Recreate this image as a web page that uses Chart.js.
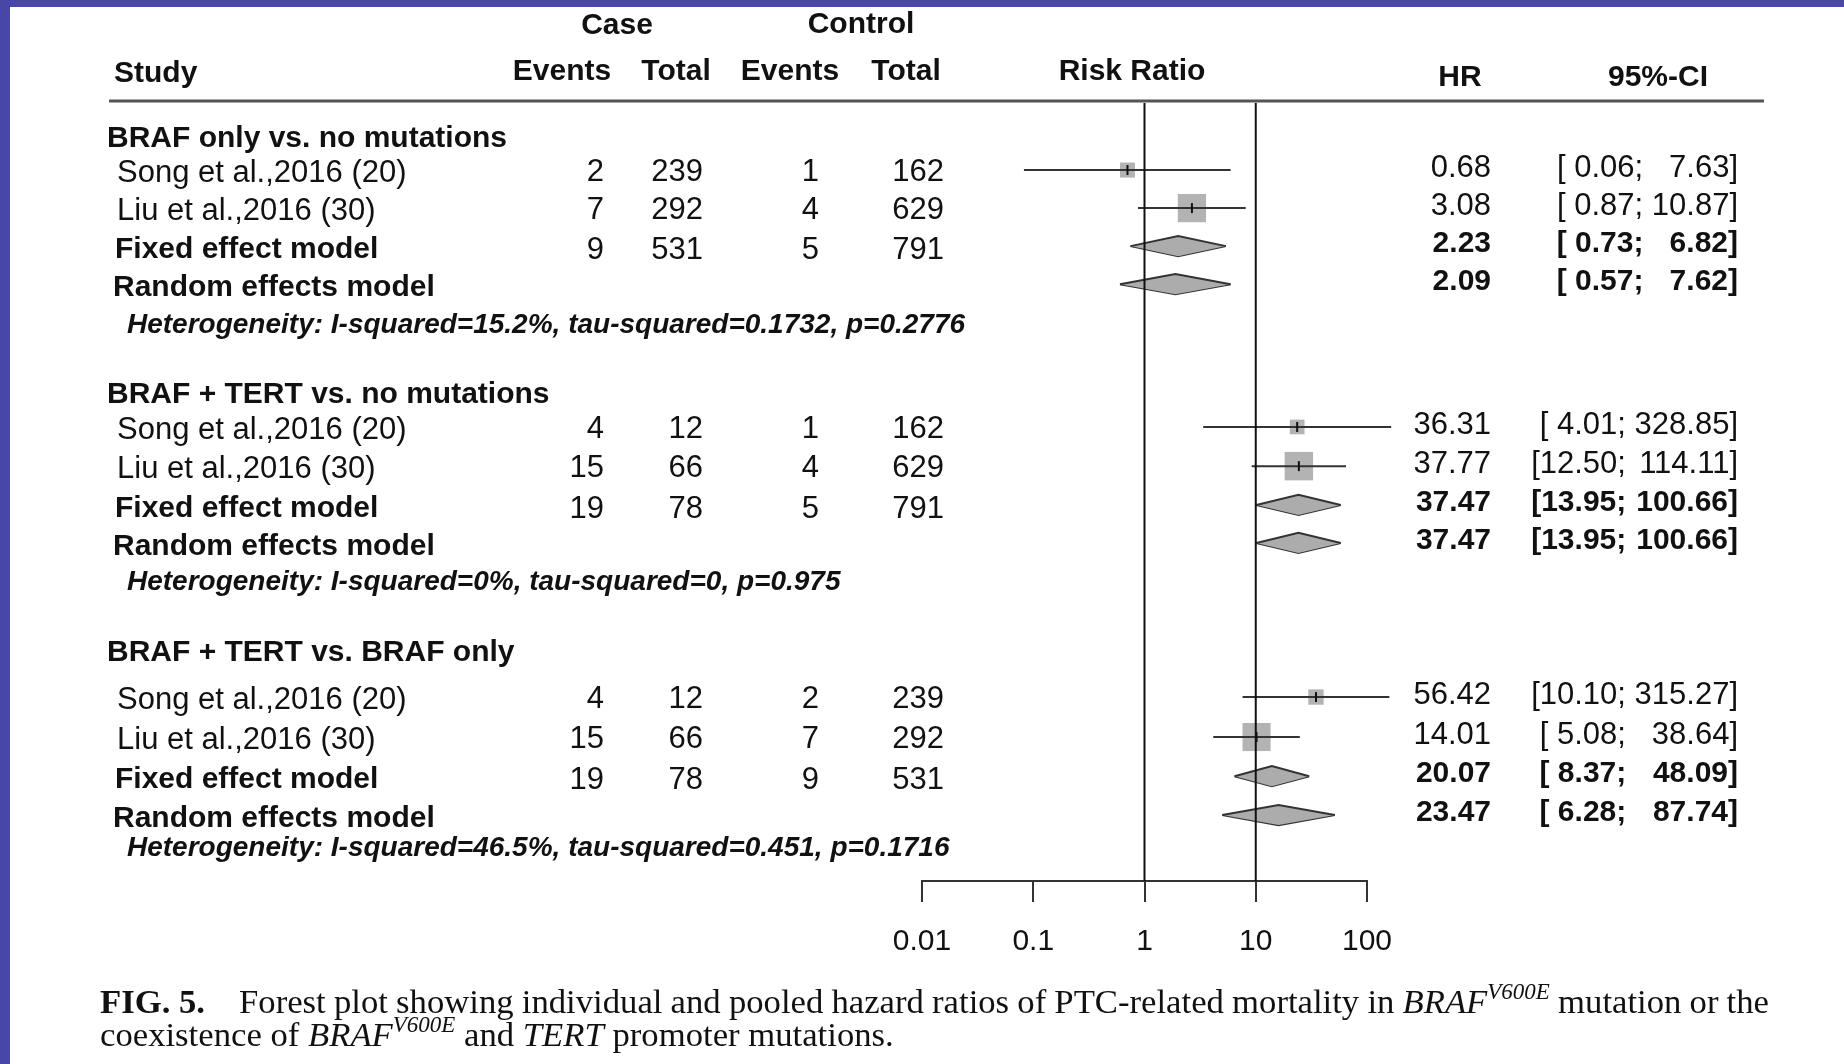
<!DOCTYPE html>
<html>
<head>
<meta charset="utf-8">
<script src="https://cdn.jsdelivr.net/npm/chart.js@4.4.1/dist/chart.umd.min.js"></script>
<style>
  html, body { margin: 0; padding: 0; background: #fff; }
  canvas { display: block; }
</style>
</head>
<body>
<canvas id="forest" width="1844" height="1064"></canvas>
<script>
// ---- data ----
const groupTitles = ['BRAF only vs. no mutations', 'BRAF + TERT vs. no mutations', 'BRAF + TERT vs. BRAF only'];
const studyNames = ['Song et al.,2016 (20)', 'Liu et al.,2016 (30)'];

const caseEvents = [[2, 7], [4, 15], [4, 15]];
const caseTotals = [[239, 292], [12, 66], [12, 66]];
const controlEvents = [[1, 4], [1, 4], [2, 7]];
const controlTotals = [[162, 629], [162, 629], [239, 292]];

const studyHR = [[0.68, 3.08], [36.31, 37.77], [56.42, 14.01]];
const studyLower = [[0.06, 0.87], [4.01, 12.50], [10.10, 5.08]];
const studyUpper = [[7.63, 10.87], [328.85, 114.11], [315.27, 38.64]];
const studyWeight = [[22, 78], [21, 79], [23, 77]];

const pooledCaseEvents = [9, 19, 19];
const pooledCaseTotals = [531, 78, 78];
const pooledControlEvents = [5, 5, 9];
const pooledControlTotals = [791, 791, 531];

const fixedHR = [2.23, 37.47, 20.07];
const fixedLower = [0.73, 13.95, 8.37];
const fixedUpper = [6.82, 100.66, 48.09];
const randomHR = [2.09, 37.47, 23.47];
const randomLower = [0.57, 13.95, 6.28];
const randomUpper = [7.62, 100.66, 87.74];

const heterogeneity = [
  'Heterogeneity: I-squared=15.2%, tau-squared=0.1732, p=0.2776',
  'Heterogeneity: I-squared=0%, tau-squared=0, p=0.975',
  'Heterogeneity: I-squared=46.5%, tau-squared=0.451, p=0.1716',
];

const axisTicks = [0.01, 0.1, 1, 10, 100];
const referenceLines = [1, 10];

const captionLine1 = 'Forest plot showing individual and pooled hazard ratios of PTC-related mortality in _BRAF_^V600E^ mutation or the';
const captionLine2 = 'coexistence of _BRAF_^V600E^ and _TERT_ promoter mutations.';

// ---- layout ----
// row slots on the y scale: header, study 1, study 2, fixed, random, heterogeneity
const rowSlots = [
  [0, 0.8, 1.78, 2.76, 3.74, 4.8],
  [6.6, 7.42, 8.43, 9.43, 10.41, 11.42],
  [13.25, 14.38, 15.41, 16.42, 17.42, 18.27],
];
const Y_TOP = -0.928;
const Y_BOTTOM = 19.12;
const DIAMOND_HALF = 0.26;

const SANS = '"Liberation Sans", Arial, sans-serif';
const SERIF = '"Liberation Serif", "Times New Roman", serif';
const NORMAL = `31px ${SANS}`;
const BOLD = `bold 30px ${SANS}`;
const HET = `italic bold 28px ${SANS}`;

const COL = {
  group: 107, study: 117, het: 127,
  caseEv: 604, caseTot: 703, ctrlEv: 819, ctrlTot: 944,
  hr: 1491, ciHi: 1738,
};

// ---- datasets ----
const datasets = [];

referenceLines.forEach((v) => {
  datasets.push({
    type: 'line', xAxisID: 'x', yAxisID: 'y',
    data: [{ x: v, y: Y_TOP }, { x: v, y: Y_BOTTOM }],
    borderColor: '#111', borderWidth: 2, pointRadius: 0, clip: false,
  });
});

const estimatePoints = [];
const squarePoints = [];
const squareRadius = [];
const ciLines = [];
const diamonds = [];

groupTitles.forEach((title, g) => {
  studyHR[g].forEach((hr, s) => {
    const y = rowSlots[g][1 + s];
    estimatePoints.push({ x: hr, y });
    squarePoints.push({ x: hr, y });
    squareRadius.push((3.2 * Math.sqrt(studyWeight[g][s])) / Math.SQRT2);
    ciLines.push([{ x: studyLower[g][s], y }, { x: studyUpper[g][s], y }]);
  });
  diamonds.push([fixedLower[g], fixedHR[g], fixedUpper[g], rowSlots[g][3]]);
  diamonds.push([randomLower[g], randomHR[g], randomUpper[g], rowSlots[g][4]]);
});

datasets.push({
  type: 'scatter', xAxisID: 'xd', yAxisID: 'y',
  data: estimatePoints,
  pointStyle: 'line', pointRotation: 90, pointRadius: 5,
  borderColor: '#111', borderWidth: 2, clip: false,
});

ciLines.forEach((pts) => {
  datasets.push({
    type: 'line', xAxisID: 'xd', yAxisID: 'y',
    data: pts, borderColor: '#333', borderWidth: 2, pointRadius: 0, clip: false,
  });
});

datasets.push({
  type: 'scatter', xAxisID: 'xd', yAxisID: 'y',
  data: squarePoints,
  pointStyle: 'rect', pointRadius: squareRadius,
  backgroundColor: '#b3b3b3', borderWidth: 0, clip: false,
});

diamonds.forEach(([lo, est, hi, y]) => {
  datasets.push({
    type: 'line', xAxisID: 'xd', yAxisID: 'y',
    data: [{ x: lo, y }, { x: est, y: y - DIAMOND_HALF }, { x: hi, y }],
    borderColor: '#333', borderWidth: 2, pointRadius: 0, tension: 0,
    fill: '+1', backgroundColor: '#acacac', clip: false,
  });
  datasets.push({
    type: 'line', xAxisID: 'xd', yAxisID: 'y',
    data: [{ x: lo, y }, { x: est, y: y + DIAMOND_HALF }, { x: hi, y }],
    borderColor: '#333', borderWidth: 2, pointRadius: 0, tension: 0,
    fill: false, clip: false,
  });
});

// ---- text / page plugin ----
function put(ctx, text, x, y, font, align) {
  ctx.font = font;
  ctx.textAlign = align;
  ctx.fillText(text, x, y);
}

// upper bound right aligned, lower bound placed left of the widest upper bound of the group
function ciText(ctx, lo, hi, y, font, upperWidth) {
  ctx.font = font;
  const space = ctx.measureText(' ').width;
  put(ctx, '[' + (lo < 10 ? ' ' : '') + lo.toFixed(2) + ';', COL.ciHi - upperWidth - space, y, font, 'right');
  put(ctx, hi.toFixed(2) + ']', COL.ciHi, y, font, 'right');
}

const CAP = 34.7;
const capFonts = {
  b: `bold ${CAP}px ${SERIF}`,
  r: `${CAP}px ${SERIF}`,
  i: `italic ${CAP}px ${SERIF}`,
  sup: `italic ${Math.round(CAP * 0.66)}px ${SERIF}`,
};

function runs(word) {
  const out = [];
  const re = /_([^_]+)_|\^([^^]+)\^|([^_^]+)/g;
  let m;
  while ((m = re.exec(word))) {
    if (m[1]) out.push({ t: m[1], s: 'i' });
    else if (m[2]) out.push({ t: m[2], s: 'sup' });
    else out.push({ t: m[3], s: 'r' });
  }
  return out;
}

function wordWidth(ctx, rs) {
  return rs.reduce((w, r) => {
    ctx.font = capFonts[r.s];
    return w + ctx.measureText(r.t).width;
  }, 0);
}

function drawWord(ctx, rs, x, y) {
  rs.forEach((r) => {
    ctx.font = capFonts[r.s];
    ctx.fillText(r.t, x, r.s === 'sup' ? y - CAP * 0.4 : y);
    x += ctx.measureText(r.t).width;
  });
}

function drawCaption(ctx) {
  ctx.save();
  ctx.fillStyle = '#111';
  ctx.textAlign = 'left';
  ctx.textBaseline = 'alphabetic';
  const left = 100, right = 1769, y1 = 1013, y2 = 1046;

  ctx.font = capFonts.b;
  ctx.fillText('FIG. 5.', left, y1);
  const start = left + ctx.measureText('FIG. 5.').width + 34;

  const words1 = captionLine1.split(' ').map(runs);
  const widths1 = words1.map((w) => wordWidth(ctx, w));
  const gap = (right - start - widths1.reduce((a, b) => a + b, 0)) / (words1.length - 1);
  let x = start;
  words1.forEach((w, i) => { drawWord(ctx, w, x, y1); x += widths1[i] + gap; });

  ctx.font = capFonts.r;
  const space = ctx.measureText(' ').width;
  x = left;
  captionLine2.split(' ').map(runs).forEach((w) => {
    drawWord(ctx, w, x, y2);
    x += wordWidth(ctx, w) + space;
  });
  ctx.restore();
}

const forestTable = {
  id: 'forestTable',
  beforeDraw(chart) {
    const { ctx, width, height } = chart;
    ctx.save();
    ctx.fillStyle = '#4747a7';
    ctx.fillRect(0, 0, width, height);
    ctx.fillStyle = '#fff';
    ctx.fillRect(10, 7, width - 10, height - 7);
    ctx.restore();
  },
  afterDraw(chart) {
    const { ctx } = chart;
    const yScale = chart.scales.y;
    ctx.save();
    ctx.fillStyle = '#111';
    ctx.textBaseline = 'middle';

    put(ctx, 'Case', 617, 26, BOLD, 'center');
    put(ctx, 'Control', 861, 25, BOLD, 'center');
    put(ctx, 'Study', 114, 74, BOLD, 'left');
    put(ctx, 'Events', 562, 72, BOLD, 'center');
    put(ctx, 'Total', 676, 72, BOLD, 'center');
    put(ctx, 'Events', 790, 72, BOLD, 'center');
    put(ctx, 'Total', 906, 72, BOLD, 'center');
    put(ctx, 'Risk Ratio', 1132, 72, BOLD, 'center');
    put(ctx, 'HR', 1460, 78, BOLD, 'center');
    put(ctx, '95%-CI', 1658, 78, BOLD, 'center');

    ctx.strokeStyle = '#555';
    ctx.lineWidth = 3;
    ctx.beginPath();
    ctx.moveTo(109, 101);
    ctx.lineTo(1764, 101);
    ctx.stroke();

    groupTitles.forEach((title, g) => {
      const py = (k) => yScale.getPixelForValue(rowSlots[g][k]);
      const uppers = studyUpper[g].concat([fixedUpper[g], randomUpper[g]]);
      ctx.font = NORMAL;
      const upW = Math.max(...uppers.map((v) => ctx.measureText(v.toFixed(2) + ']').width));

      put(ctx, title, COL.group, py(0), BOLD, 'left');

      studyNames.forEach((name, s) => {
        const yy = py(1 + s);
        put(ctx, name, COL.study, yy + 3, NORMAL, 'left');
        put(ctx, String(caseEvents[g][s]), COL.caseEv, yy + 2, NORMAL, 'right');
        put(ctx, String(caseTotals[g][s]), COL.caseTot, yy + 2, NORMAL, 'right');
        put(ctx, String(controlEvents[g][s]), COL.ctrlEv, yy + 2, NORMAL, 'right');
        put(ctx, String(controlTotals[g][s]), COL.ctrlTot, yy + 2, NORMAL, 'right');
        put(ctx, studyHR[g][s].toFixed(2), COL.hr, yy - 2, NORMAL, 'right');
        ciText(ctx, studyLower[g][s], studyUpper[g][s], yy - 2, NORMAL, upW);
      });

      const yf = py(3);
      put(ctx, 'Fixed effect model', COL.study - 2, yf + 4, BOLD, 'left');
      put(ctx, String(pooledCaseEvents[g]), COL.caseEv, yf + 4, NORMAL, 'right');
      put(ctx, String(pooledCaseTotals[g]), COL.caseTot, yf + 4, NORMAL, 'right');
      put(ctx, String(pooledControlEvents[g]), COL.ctrlEv, yf + 4, NORMAL, 'right');
      put(ctx, String(pooledControlTotals[g]), COL.ctrlTot, yf + 4, NORMAL, 'right');
      put(ctx, fixedHR[g].toFixed(2), COL.hr, yf - 2, BOLD, 'right');
      ciText(ctx, fixedLower[g], fixedUpper[g], yf - 2, BOLD, upW);

      const yr = py(4);
      put(ctx, 'Random effects model', COL.study - 4, yr + 4, BOLD, 'left');
      put(ctx, randomHR[g].toFixed(2), COL.hr, yr - 2, BOLD, 'right');
      ciText(ctx, randomLower[g], randomUpper[g], yr - 2, BOLD, upW);

      put(ctx, heterogeneity[g], COL.het, py(5), HET, 'left');
    });
    ctx.restore();

    drawCaption(ctx);
  },
};

new Chart(document.getElementById('forest'), {
  type: 'scatter',
  data: { datasets },
  options: {
    responsive: false,
    animation: false,
    events: [],
    layout: { padding: { left: 922, right: 477, top: 103, bottom: 83 } },
    plugins: {
      legend: { display: false },
      tooltip: { enabled: false },
    },
    scales: {
      x: {
        type: 'logarithmic',
        position: 'bottom',
        min: 0.01,
        max: 100,
        afterBuildTicks: (axis) => { axis.ticks = axisTicks.map((v) => ({ value: v })); },
        afterFit: (axis) => { axis.height = 100; },
        border: { display: true, color: '#333', width: 2 },
        grid: { drawOnChartArea: false, drawTicks: true, tickLength: 21, color: '#333', lineWidth: 2 },
        ticks: {
          autoSkip: false,
          maxRotation: 0,
          padding: 22,
          color: '#111',
          font: { family: SANS, size: 30 },
          callback: (v) => String(v),
        },
      },
      xd: {
        type: 'logarithmic',
        display: false,
        bounds: 'data',
        min: 0.0055,
        max: 186.6,
      },
      y: {
        type: 'linear',
        display: false,
        reverse: true,
        min: Y_TOP,
        max: Y_BOTTOM,
      },
    },
  },
  plugins: [forestTable],
});
</script>
</body>
</html>
